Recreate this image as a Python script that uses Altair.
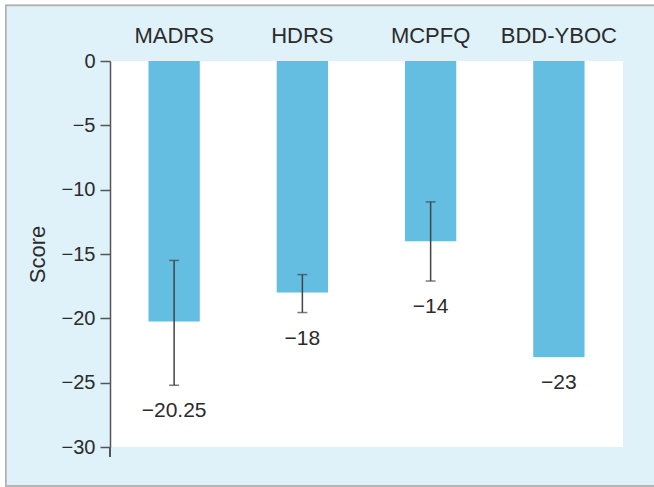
import altair as alt
import pandas as pd

# Change from baseline on each rating scale
scales = ["MADRS", "HDRS", "MCPFQ", "BDD-YBOC"]
change = [-20.25, -18, -14, -23]
err_low = [-25.2, -19.55, -17.1, None]
err_high = [-15.5, -16.6, -10.95, None]

df = pd.DataFrame({"scale": scales, "change": change, "lo": err_low, "hi": err_high})

W, H = 513, 386
BAR = "#63bee1"
INK = "#2b2b2b"
AXIS = "#555555"
FONT = "Liberation Sans"

x_enc = alt.X(
    "scale:N",
    sort=scales,
    scale=alt.Scale(paddingInner=0.6, paddingOuter=0.3),
    axis=alt.Axis(
        orient="top", title=None, ticks=False, tickSize=0, domain=False,
        labelAngle=0, labelFontSize=22, labelColor=INK, labelPadding=14,
        labelFont=FONT, zindex=1,
    ),
)
y_scale = alt.Scale(domain=[-30, 0], nice=False, zero=False)
y_enc = alt.Y(
    "change:Q",
    scale=y_scale,
    axis=alt.Axis(
        title="Score", values=[0, -5, -10, -15, -20, -25, -30], grid=False,
        tickSize=10, tickColor=AXIS, tickWidth=1.5, domainColor=AXIS, domainWidth=1.5,
        labelFontSize=20, labelColor=INK, labelPadding=5, labelFont=FONT,
        titleFontSize=22, titleFontWeight="normal", titleColor=INK, titleFont=FONT,
        titleAngle=-90, titleX=-66, titleY=H / 2, titleAlign="center",
        titleBaseline="alphabetic", zindex=1,
    ),
)

# panel backdrop and white plotting area
frame = alt.Chart(df).mark_rect(fill="#dff1f9", stroke="#b3b3b3", strokeWidth=1.5).encode(
    x=alt.value(-104), x2=alt.value(W + 60), y=alt.value(-55.5), y2=alt.value(H + 38.7)
)
plot_bg = alt.Chart(df).mark_rect(fill="white").encode(
    x=alt.value(0), x2=alt.value(W), y=alt.value(0), y2=alt.value(H)
)
# y axis line runs a little past the last tick
axis_tail = alt.Chart(df).mark_rule(color=AXIS, strokeWidth=1.5).encode(
    x=alt.value(0), y=alt.value(H), y2=alt.value(H + 10)
)

base = alt.Chart(df)

bars = base.mark_bar(color=BAR).encode(x=x_enc, y=y_enc, y2=alt.datum(0))

err = base.transform_filter("isValid(datum.lo)")
err_rule = err.mark_rule(color="#444444", strokeWidth=1.5).encode(
    x=alt.X("scale:N", sort=scales), y=alt.Y("lo:Q", scale=y_scale), y2="hi:Q"
)
cap_lo = err.mark_tick(color="#444444", size=10, thickness=1.5).encode(
    x=alt.X("scale:N", sort=scales), y=alt.Y("lo:Q", scale=y_scale)
)
cap_hi = err.mark_tick(color="#444444", size=10, thickness=1.5).encode(
    x=alt.X("scale:N", sort=scales), y=alt.Y("hi:Q", scale=y_scale)
)

labels = base.transform_calculate(
    bottom="isValid(datum.lo) ? datum.lo : datum.change"
).mark_text(baseline="top", dy=15, fontSize=21, color=INK, font=FONT).encode(
    x=alt.X("scale:N", sort=scales),
    y=alt.Y("bottom:Q", scale=y_scale),
    text=alt.Text("change:Q", format="~g"),
)

chart = (
    alt.layer(frame, plot_bg, axis_tail, bars, err_rule, cap_lo, cap_hi, labels)
    .properties(
        width=W, height=H,
        autosize=alt.AutoSizeParams(type="none"),
        padding={"left": 110, "top": 61, "right": 31, "bottom": 40},
        background="white",
    )
    .configure_view(stroke=AXIS, strokeWidth=1.5, fill="white")
)

chart.save("out.html", embed_options={"renderer": "svg", "actions": False})
